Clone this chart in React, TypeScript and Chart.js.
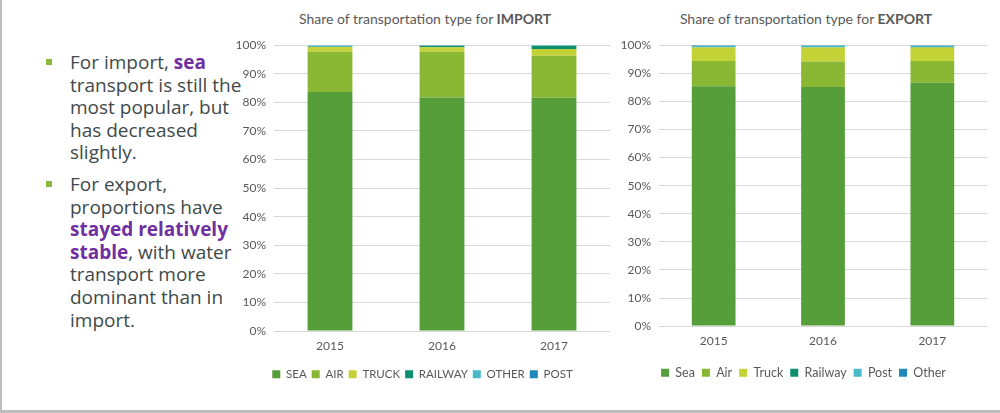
import React, { useEffect, useRef } from "react";
import { Chart, registerables } from "chart.js";

Chart.register(...registerables);

const years = ["2015", "2016", "2017"];
const yTicks = [0, 10, 20, 30, 40, 50, 60, 70, 80, 90, 100];

const importLabels = ["SEA", "AIR", "TRUCK", "RAILWAY", "OTHER", "POST"];
const importSea = [83.6, 81.7, 81.6];
const importAir = [14.1, 16.0, 14.7];
const importTruck = [1.7, 1.6, 2.4];
const importRailway = [0.1, 0.5, 1.1];
const importOther = [0.4, 0.1, 0.2];
const importPost = [0.1, 0.1, 0.0];

const exportLabels = ["Sea", "Air", "Truck", "Railway", "Post", "Other"];
const exportSea = [85.4, 85.1, 86.6];
const exportAir = [9.0, 9.1, 7.8];
const exportTruck = [4.8, 5.0, 4.8];
const exportRailway = [0.1, 0.1, 0.2];
const exportPost = [0.5, 0.5, 0.4];
const exportOther = [0.2, 0.2, 0.2];

const importColors = ["#559e3a", "#8bb834", "#c3d236", "#0e9070", "#4bbac8", "#1e88b8"];
const exportColors = ["#559e3a", "#8bb834", "#c3d236", "#0e9070", "#4bbac8", "#1e88b8"];

const FONT = "Lato, 'Open Sans', sans-serif";
const GRAY = "#595959";

function StackChart(props: {
  labels: string[];
  series: number[][];
  colors: string[];
  width: number;
  height: number;
  legendPad: number;
  legendFont: number;
  xExtra: number;
}) {
  const ref = useRef<HTMLCanvasElement | null>(null);
  useEffect(() => {
    if (!ref.current) return;
    const chart = new Chart(ref.current, {
      type: "bar",
      data: {
        labels: years,
        datasets: props.labels.map((l, i) => ({
          label: l,
          data: props.series[i],
          backgroundColor: props.colors[i],
          borderWidth: 0,
          categoryPercentage: 1,
          barPercentage: 0.4,
        })),
      },
      options: {
        animation: false,
        responsive: false,
        maintainAspectRatio: false,
        layout: { padding: { top: 4, right: 1, left: 0, bottom: 8 } },
        plugins: {
          title: { display: false },
          tooltip: { enabled: false },
          legend: {
            position: "bottom",
            labels: {
              boxWidth: 8,
              boxHeight: 8,
              padding: props.legendPad,
              color: GRAY,
              font: { family: FONT, size: props.legendFont },
            },
          },
        },
        scales: {
          x: {
            stacked: true,
            grid: { display: false },
            border: { display: false },
            ticks: { color: GRAY, font: { family: FONT, size: 12 }, padding: 0 },
            afterFit: (axis: any) => {
              axis.height += props.xExtra;
            },
          },
          y: {
            stacked: true,
            min: 0,
            max: 100,
            afterBuildTicks: (axis: any) => {
              axis.ticks = yTicks.map((v) => ({ value: v }));
            },
            afterFit: (axis: any) => {
              axis.width = 39;
            },
            grid: { color: "#d9d9d9", drawTicks: false },
            border: { display: false },
            ticks: {
              color: GRAY,
              font: { family: FONT, size: 12 },
              padding: 8,
              callback: (v: any) => v + "%",
            },
          },
        },
      },
    });
    return () => chart.destroy();
  }, []);
  return <canvas ref={ref} width={props.width} height={props.height} style={{ display: "block" }} />;
}

const textStyle: React.CSSProperties = {
  fontFamily: "'Open Sans', 'Noto Sans', sans-serif",
  fontSize: 19,
  lineHeight: "22.6px",
  color: "#3f4a4a",
};
const purple: React.CSSProperties = { color: "#7030a0", fontWeight: 700 };

function Bullet(props: { top: number; children: React.ReactNode }) {
  return (
    <div style={{ position: "absolute", left: 46, top: props.top, ...textStyle }}>
      <div style={{ position: "absolute", left: 0, top: 8, width: 6, height: 6, background: "#8db93b" }} />
      <div style={{ position: "absolute", left: 24, top: 0, whiteSpace: "nowrap" }}>{props.children}</div>
    </div>
  );
}

export default function App() {
  return (
    <div style={{ position: "absolute", left: 0, top: 0, width: 1000, height: 413, background: "#fff", overflow: "hidden" }}>
      <div style={{ position: "absolute", left: 0, top: 0, width: 2, height: 413, background: "#bdbdbd" }} />
      <div style={{ position: "absolute", left: 0, top: 410, width: 1000, height: 3, background: "#bdbdbd" }} />
      <Bullet top={51}>
        For import, <span style={purple}>sea</span>
        <br />transport is still the
        <br />most popular, but
        <br />has decreased
        <br />slightly.
      </Bullet>
      <Bullet top={173}>
        For export,
        <br />proportions have
        <br /><span style={purple}>stayed relatively</span>
        <br /><span style={purple}>stable</span>, with water
        <br />transport more
        <br />dominant than in
        <br />import.
      </Bullet>
      <div style={{ position: "absolute", left: 235, top: 10, width: 380, textAlign: "center", fontFamily: FONT, fontSize: 14, color: GRAY }}>
        Share of transportation type for <b>IMPORT</b>
      </div>
      <div style={{ position: "absolute", left: 615, top: 10, width: 382, textAlign: "center", fontFamily: FONT, fontSize: 14, color: GRAY }}>
        Share of transportation type for <b>EXPORT</b>
      </div>
      <div style={{ position: "absolute", left: 235, top: 30 }}>
        <StackChart
          labels={importLabels}
          series={[importSea, importAir, importTruck, importRailway, importOther, importPost]}
          colors={importColors}
          width={376}
          height={368}
          legendPad={5}
          legendFont={11.5}
          xExtra={10}
        />
      </div>
      <div style={{ position: "absolute", left: 620, top: 30 }}>
        <StackChart
          labels={exportLabels}
          series={[exportSea, exportAir, exportTruck, exportRailway, exportPost, exportOther]}
          colors={exportColors}
          width={368}
          height={367}
          legendPad={7}
          legendFont={12.5}
          xExtra={11}
        />
      </div>
    </div>
  );
}
